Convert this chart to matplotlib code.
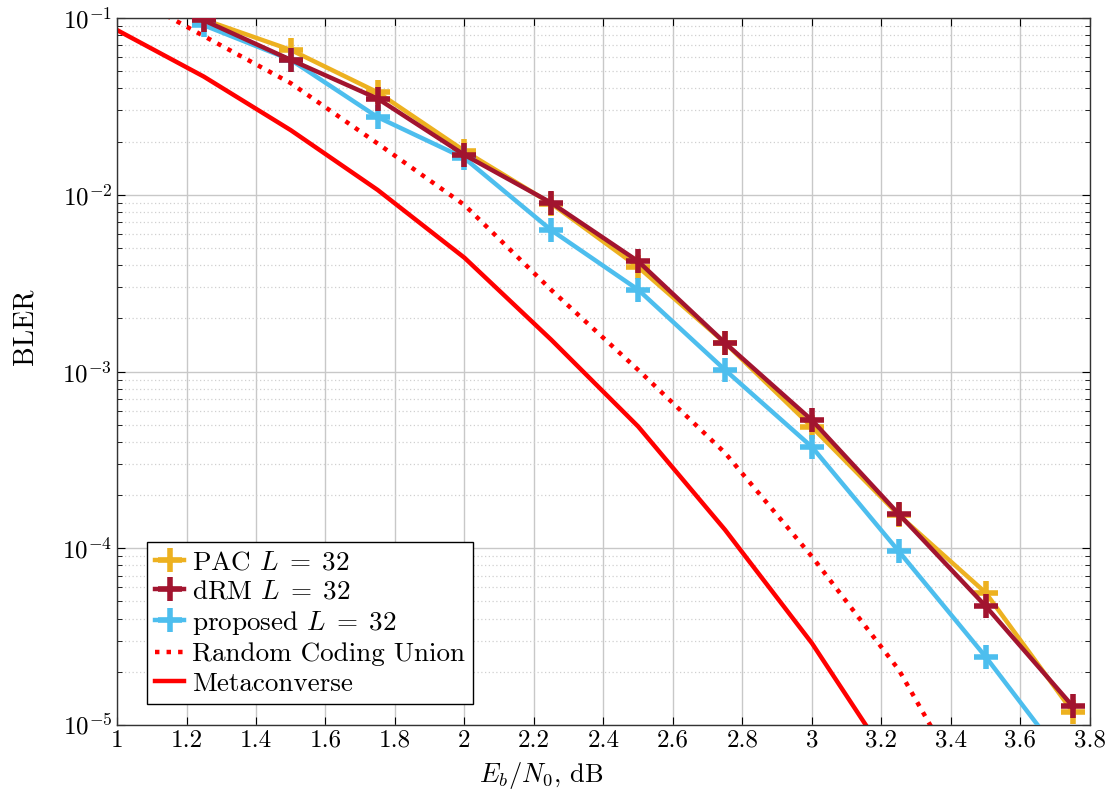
import matplotlib
matplotlib.use("Agg")
import matplotlib.pyplot as plt
from matplotlib.ticker import FixedLocator, FuncFormatter, LogLocator, NullFormatter

plt.rcParams['font.family'] = 'cmr10'
plt.rcParams['mathtext.fontset'] = 'cm'
plt.rcParams['axes.unicode_minus'] = False
plt.rcParams['axes.formatter.use_mathtext'] = True

x_sim = [1.25, 1.5, 1.75, 2.0, 2.25, 2.5, 2.75, 3.0, 3.25, 3.5, 3.75]
pac = [0.098, 0.066, 0.038, 0.0177, 0.0089, 0.0039, 0.00145, 0.000485, 0.000154, 5.6e-5, 1.19e-5]
drm = [0.097, 0.058, 0.035, 0.0168, 0.0090, 0.0042, 0.00145, 0.00053, 0.000156, 4.7e-5, 1.28e-5]
proposed = [0.091, 0.058, 0.0275, 0.0161, 0.0063, 0.0029, 0.00102, 0.000374, 9.6e-5, 2.43e-5, 5.5e-6]

x_rcu = [1.0, 1.25, 1.5, 1.75, 2.0, 2.25, 2.5, 2.75, 3.0, 3.25, 3.5]
rcu = [0.147, 0.079, 0.0428, 0.0195, 0.00875, 0.00289, 0.00102, 3.46e-4, 8.97e-5, 2.05e-5, 2.8e-6]

x_mc = [1.0, 1.25, 1.5, 1.75, 2.0, 2.25, 2.5, 2.75, 3.0, 3.25]
mc = [0.0855, 0.0466, 0.0232, 0.01065, 0.0044, 0.00151, 0.000488, 0.000127, 2.9e-5, 5.2e-6]

xticks = [1.0, 1.2, 1.4, 1.6, 1.8, 2.0, 2.2, 2.4, 2.6, 2.8, 3.0, 3.2, 3.4, 3.6, 3.8]

c_pac = '#EDB120'
c_drm = '#A2142F'
c_prop = '#4DBEEE'
c_red = '#FF0000'

fig = plt.figure(figsize=(11.07, 7.98), dpi=100)
ax = fig.add_axes([0.1057, 0.0915, 0.8789, 0.8859])

lw = 3.2
ms = 17
mew = 4
ax.plot(x_sim, pac, color=c_pac, lw=lw, marker='+', ms=ms, mew=mew, label=r'PAC $L\;=\;32$', zorder=3)
ax.plot(x_sim, drm, color=c_drm, lw=lw, marker='+', ms=ms, mew=mew, label=r'dRM $L\;=\;32$', zorder=4)
ax.plot(x_sim, proposed, color=c_prop, lw=lw, marker='+', ms=ms, mew=mew, label=r'proposed $L\;=\;32$', zorder=3)
ax.plot(x_rcu, rcu, color=c_red, lw=lw, linestyle=(0, (1, 1.6)), label='Random Coding Union', zorder=2)
ax.plot(x_mc, mc, color=c_red, lw=lw, label='Metaconverse', zorder=2)

ax.set_yscale('log')
ax.set_xlim(1.0, 3.8)
ax.set_ylim(1e-5, 1e-1)
ax.xaxis.set_major_locator(FixedLocator(xticks))
ax.xaxis.set_major_formatter(FuncFormatter(lambda v, p: '%g' % round(v, 2)))
ax.yaxis.set_major_locator(LogLocator(base=10, numticks=10))
ax.yaxis.set_minor_locator(LogLocator(base=10, subs=range(2, 10), numticks=20))
ax.yaxis.set_minor_formatter(NullFormatter())

ax.grid(True, which='major', color='#c8c8c8', lw=1.0, linestyle='-')
ax.grid(True, which='minor', axis='y', color='#d0d0d0', lw=0.9, linestyle=(0, (1, 2)))
ax.set_axisbelow(True)

ax.tick_params(axis='both', which='both', direction='in', top=True, right=True, labelsize=18)
ax.tick_params(which='major', length=6, width=0.8)
ax.tick_params(which='minor', length=3.5, width=0.6)
for s in ax.spines.values():
    s.set_linewidth(1.0)
    s.set_color('#333333')

ax.set_xlabel(r'$E_b/N_0$, dB', fontsize=19)
ax.set_ylabel('BLER', fontsize=20)
ax.xaxis.set_label_coords(0.436, -0.071)
ax.yaxis.set_label_coords(-0.0946, 0.563)
ax.xaxis.label.set_va('center')
ax.yaxis.label.set_va('center')

leg = ax.legend(loc='lower left', bbox_to_anchor=(0.031, 0.03), fontsize=19.5, frameon=True,
                fancybox=False, edgecolor='black', framealpha=1, handlelength=1.05,
                handletextpad=0.3, borderpad=0.3, labelspacing=0.2, borderaxespad=0)
leg.get_frame().set_linewidth(1.0)

fig.savefig('out.png', dpi=100)
